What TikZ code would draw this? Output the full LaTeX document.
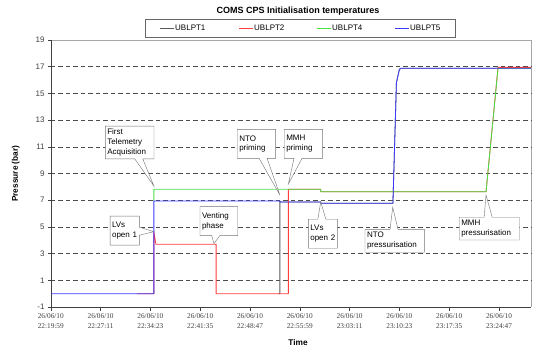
\documentclass[tikz,border=0pt]{standalone}
\usepackage{fontspec}
\setmainfont{Liberation Sans}
\newfontfamily\tickfont{Liberation Serif}
\usetikzlibrary{shapes.callouts}

\definecolor{ptone}{RGB}{90,90,90}
\definecolor{pttwo}{RGB}{255,60,60}
\definecolor{ptfour}{RGB}{70,225,70}
\definecolor{ptfive}{RGB}{60,60,255}

\tikzset{
  gridline/.style={dash pattern=on 4.5pt off 3pt, black!70, line width=0.5pt},
  trace/.style={line width=0.8pt, line join=round},
  note/.style={rectangle callout, draw=black!55, fill=white, align=left,
    font=\fontsize{8}{9.6}\selectfont, inner xsep=2pt, inner ysep=3pt,
    callout pointer width=8pt},
}

\begin{document}
\begin{tikzpicture}[x=1pt, y=-1pt]
        \useasboundingbox (0,0) rectangle (535,347);

        % title
        \node (title) at (298,11.3) {\bfseries\fontsize{9}{10}\selectfont COMS CPS Initialisation temperatures};

        % legend
        \node[draw=black!60, minimum width=309.7pt, minimum height=17.5pt] (legend) at (300.5,28.2) {};
        \node[anchor=west, inner sep=1pt, font=\fontsize{8}{9}\selectfont] (lone) at (174,28.2) {UBLPT1};
        \node[anchor=west, inner sep=1pt, font=\fontsize{8}{9}\selectfont] (ltwo) at (253,28.2) {UBLPT2};
        \node[anchor=west, inner sep=1pt, font=\fontsize{8}{9}\selectfont] (lfour) at (331,28.2) {UBLPT4};
        \node[anchor=west, inner sep=1pt, font=\fontsize{8}{9}\selectfont] (lfive) at (409,28.2) {UBLPT5};
        \draw[trace, ptone] (lone.west) -- ++(-14,0);
        \draw[trace, pttwo] (ltwo.west) -- ++(-14,0);
        \draw[trace, ptfour] (lfour.west) -- ++(-14,0);
        \draw[trace, ptfive] (lfive.west) -- ++(-14,0);

        % axis titles
        \node[font=\bfseries\fontsize{8.3}{9}\selectfont] (xtitle) at (298,343) {Time};
        \node[font=\bfseries\fontsize{8.3}{9}\selectfont, rotate=90] (ytitle) at (15.7,173.7) {Pressure (bar)};

        % plot area: x in ticks of 7:12 min, y in bar
        \begin{scope}[shift={(50.8,293.65)}, x=49.8pt, y=13.35pt]
            % frame
            \draw[black!35] (0,19) -- (9.64,19) -- (9.64,-1);
            \foreach \v in {1,3,...,17}
                \draw[gridline] (0,\v) -- (9.64,\v);
            \draw[black!75] (0,19) -- (0,-1) -- (9.64,-1);

            % y ticks
            \foreach \v in {-1,1,...,19}
                \draw[black!75] (0,\v) -- ++(-3pt,0)
                    node[left, inner xsep=3pt, font=\fontsize{8}{9}\selectfont] (ytick\v) {\v};

            % x ticks
            \foreach \i/\t in {0/22:19:59, 1/22:27:11, 2/22:34:23, 3/22:41:35, 4/22:48:47,
                               5/22:55:59, 6/23:03:11, 7/23:10:23, 8/23:17:35, 9/23:24:47}
                \draw[black!75] (\i,-1) -- ++(0,-4pt)
                    node[below, inner sep=2.5pt, align=center,
                         font=\tickfont\fontsize{7.3}{10.2}\selectfont] (xtick\i) {26/06/10\\\t};

            % UBLPT1
            \draw[trace, ptone] (4.57,0) -- (4.60,0) -- (4.60,6.94) -- (4.60,6.87) -- (5.42,6.87)
                -- (5.42,6.77) -- (6.87,6.77) -- (6.94,15.8) -- (7.0,16.8) -- (7.03,16.88) -- (9.64,16.88);
            % UBLPT2
            \draw[trace, pttwo] (1.73,0) -- (2.07,0) -- (2.07,4.64) -- (2.11,3.70) -- (3.32,3.70)
                -- (3.32,0) -- (4.77,0) -- (4.77,7.82) -- (5.42,7.82) -- (5.42,7.64) -- (8.74,7.64)
                -- (8.98,16.95) -- (9.64,16.95);
            % UBLPT4
            \draw[trace, ptfour] (2.07,6.94) -- (2.07,7.82) -- (5.42,7.82) -- (5.42,7.64)
                -- (8.74,7.64) -- (8.98,16.86) -- (9.64,16.86);
            % UBLPT5
            \draw[trace, ptfive] (0,0) -- (2.07,0) -- (2.07,6.94) -- (4.60,6.94) -- (4.60,6.87)
                -- (5.42,6.87) -- (5.42,6.77) -- (6.87,6.77) -- (6.94,15.8) -- (7.0,16.8)
                -- (7.03,16.88) -- (9.64,16.88);

            % notes
            \node[note, text width=44.7pt, callout absolute pointer={(2.07,8.06)}] (firsttm) at (1.584,11.32)
                {First\\Telemetry\\Acquisition};
            \node[note, text width=25.3pt, minimum height=29pt, callout absolute pointer={(2.07,4.64)}] (lvsone) at (1.484,4.72)
                {LVs\\open 1};
            \node[note, text width=33.7pt, minimum height=29pt, callout absolute pointer={(3.277,3.75)}] (venting) at (3.375,5.43)
                {Venting\\phase};
            \node[note, text width=34.4pt, minimum height=29pt, callout absolute pointer={(4.60,7.39)}] (ntoprime) at (4.13,11.22)
                {NTO\\priming};
            \node[note, text width=34.4pt, minimum height=29pt, callout absolute pointer={(4.77,8.21)}] (mmhprime) at (5.074,11.22)
                {MMH\\priming};
            \node[note, text width=25pt, minimum height=29pt, callout absolute pointer={(5.42,6.87)}] (lvstwo) at (5.462,4.49)
                {LVs\\open 2};
            \node[note, text width=55.3pt, callout absolute pointer={(6.866,6.47)}] (ntopress) at (6.905,3.96)
                {NTO\\pressurisation};
            \node[note, text width=56pt, callout absolute pointer={(8.739,7.39)}] (mmhpress) at (8.805,4.87)
                {MMH\\pressurisation};
        \end{scope}
    \end{tikzpicture}
\end{document}
